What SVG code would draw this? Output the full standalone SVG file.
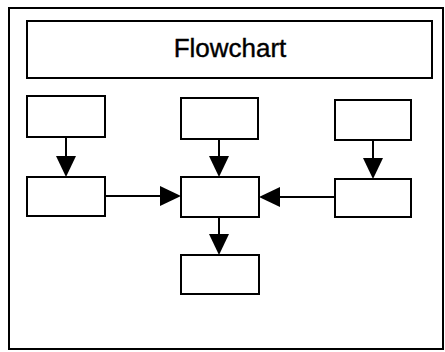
<svg xmlns="http://www.w3.org/2000/svg" width="445" height="352" viewBox="0 0 445 352">
<style>
.box{fill:#fff;stroke:#000;stroke-width:2}
.ln{stroke:#000;stroke-width:2;fill:none}
.ah{fill:#000}
text{font-family:"Liberation Sans",Arial,sans-serif;font-size:26px;fill:#000;stroke:#000;stroke-width:0.4}
</style>
<rect width="445" height="352" fill="#fff"/>
<g id="frame"><rect class="box" x="9" y="8" width="434" height="341"/></g>
<g id="title"><rect class="box" x="27" y="21" width="405" height="57"/><text x="230" y="56.5" text-anchor="middle">Flowchart</text></g>
<g id="connectors">
<line class="ln" x1="66" y1="137" x2="66" y2="158"/><polygon class="ah" points="56,156 76,156 66,177"/>
<line class="ln" x1="219" y1="139" x2="219" y2="158"/><polygon class="ah" points="209,156 229,156 219,177"/>
<line class="ln" x1="373" y1="140" x2="373" y2="160"/><polygon class="ah" points="363,158 383,158 373,179"/>
<line class="ln" x1="105" y1="196" x2="162" y2="196"/><polygon class="ah" points="160,186 160,206 181,196"/>
<line class="ln" x1="335" y1="197" x2="278" y2="197"/><polygon class="ah" points="280,187 280,207 259,197"/>
<line class="ln" x1="219" y1="217" x2="219" y2="236"/><polygon class="ah" points="209,234 229,234 219,255"/>
</g>
<g id="n1"><rect class="box" x="27" y="96" width="78" height="41"/></g>
<g id="n2"><rect class="box" x="181" y="98" width="77" height="41"/></g>
<g id="n3"><rect class="box" x="335" y="100" width="76" height="40"/></g>
<g id="n4"><rect class="box" x="27" y="177" width="78" height="39"/></g>
<g id="n5"><rect class="box" x="181" y="177" width="78" height="40"/></g>
<g id="n6"><rect class="box" x="335" y="179" width="76" height="38"/></g>
<g id="n7"><rect class="box" x="181" y="255" width="78" height="39"/></g>
</svg>
